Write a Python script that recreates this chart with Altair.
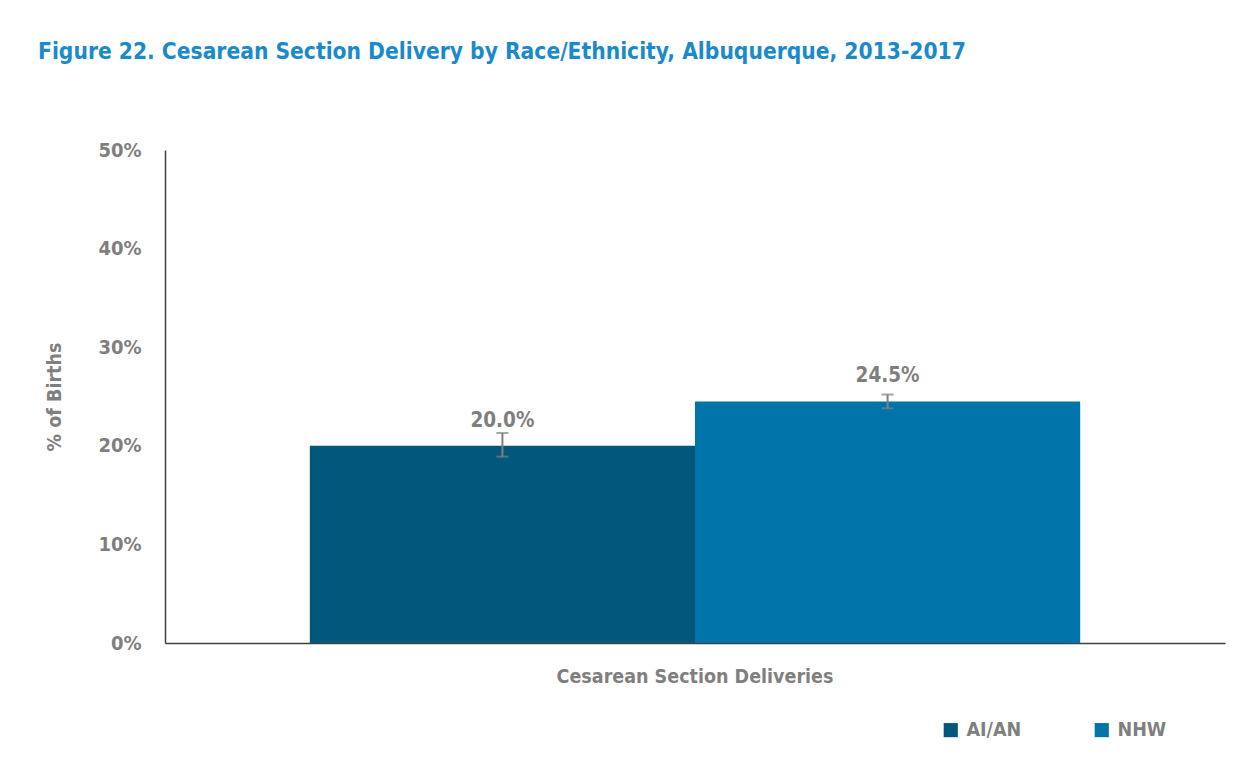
import altair as alt
import pandas as pd

category = "Cesarean Section Deliveries"
groups = ["AI/AN", "NHW"]
values = [20.0, 24.5]
lower = [18.9, 23.8]
upper = [21.3, 25.2]
value_labels = ["20.0%", "24.5%"]
colors = ["#02577C", "#0073A8"]
y_ticks = [0, 10, 20, 30, 40, 50]

df = pd.DataFrame({
    "category": [category] * len(groups),
    "group": groups,
    "value": values,
    "lower": lower,
    "upper": upper,
    "label": value_labels,
})

FONT = "DejaVu Sans Condensed, Roboto, sans-serif"
GRAY = "#7F7F7F"

x_enc = alt.X("category:N", title=None,
              scale=alt.Scale(paddingInner=0, paddingOuter=0.188),
              axis=alt.Axis(labelAngle=0, ticks=False, labelFontSize=19.5, labelFont=FONT,
                            labelFontWeight="bold", labelColor=GRAY, labelPadding=24,
                            labelLimit=1000,
                            domainColor="#404040", domainWidth=1.5))
xo_enc = alt.XOffset("group:N", scale=alt.Scale(domain=groups, paddingInner=0, paddingOuter=0))

base = alt.Chart(df).encode(x=x_enc, xOffset=xo_enc)

bars = base.mark_bar().encode(
    y=alt.Y("value:Q", title="% of Births",
            scale=alt.Scale(domain=[0, 50], nice=False),
            axis=alt.Axis(values=y_ticks, labelExpr="datum.value + '%'", grid=False, ticks=False,
                          labelFontSize=20, labelFont=FONT, labelFontWeight="bold",
                          labelColor=GRAY, labelPadding=24,
                          titleFontSize=19.5, titleFont=FONT, titleFontWeight="bold",
                          titleColor=GRAY, titlePadding=33,
                          domainColor="#404040", domainWidth=1.5)),
    color=alt.Color("group:N", scale=alt.Scale(domain=groups, range=colors),
                    legend=alt.Legend(title=None, orient="none", direction="horizontal",
                                      legendX=776, legendY=570, symbolType="square",
                                      symbolSize=200, symbolStrokeWidth=0, symbolOpacity=1,
                                      labelFontSize=19.5, labelFont=FONT, labelFontWeight="bold",
                                      labelColor=GRAY, columnPadding=70, labelOffset=6)),
)

err = base.mark_rule(color=GRAY, strokeWidth=2).encode(
    y=alt.Y("lower:Q"), y2="upper:Q")
cap_lo = base.mark_tick(color=GRAY, thickness=2, size=12, orient="horizontal").encode(y="lower:Q")
cap_hi = base.mark_tick(color=GRAY, thickness=2, size=12, orient="horizontal").encode(y="upper:Q")

text = base.mark_text(dy=-25, fontSize=20.5, font=FONT, fontWeight="bold", color=GRAY).encode(
    y="value:Q", text="label:N")

chart = alt.layer(bars, err, cap_lo, cap_hi, text).properties(
    width=1060, height=493,
    padding={"left": 157, "top": 142, "right": 24, "bottom": 110},
    autosize=alt.AutoSizeParams(type="none"),
    title=alt.TitleParams("Figure 22. Cesarean Section Delivery by Race/Ethnicity, Albuquerque, 2013-2017",
                          anchor="start", frame="group", dx=-127, offset=76,
                          fontSize=22.6, font=FONT, fontWeight="bold", color="#1B8ACB"),
).configure(background="white").configure_view(stroke=None)

chart.save("out.html", embed_options={"renderer": "svg", "actions": False})
